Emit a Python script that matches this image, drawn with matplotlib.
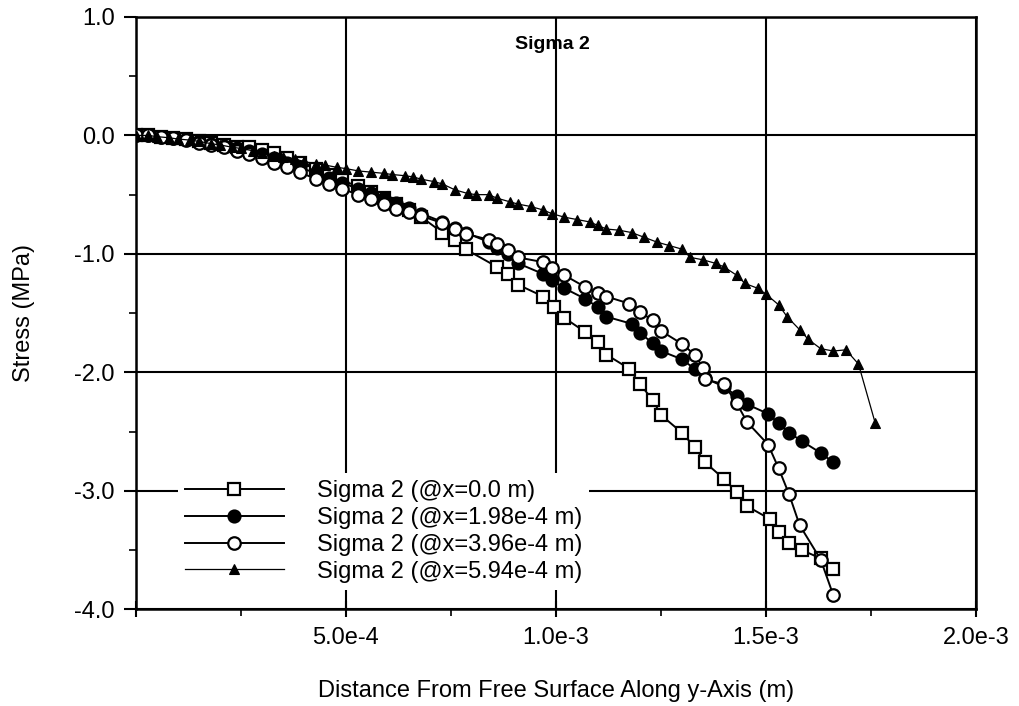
import numpy as np
import matplotlib
matplotlib.use("Agg")
import matplotlib.pyplot as plt
from matplotlib.ticker import MultipleLocator

plt.rcParams['font.family'] = ['Liberation Sans', 'DejaVu Sans']

# distances are read in units of 1e-3 m
x_sq = [0.00, 0.03, 0.06, 0.09, 0.12, 0.15, 0.18, 0.21, 0.24, 0.27, 0.30, 0.33, 0.36, 0.39,
        0.43, 0.46, 0.49, 0.53, 0.56, 0.59, 0.62, 0.65, 0.68, 0.73, 0.76, 0.785, 0.86, 0.885,
        0.91, 0.97, 0.995, 1.02, 1.07, 1.10, 1.12, 1.175, 1.20, 1.23, 1.25, 1.30, 1.33, 1.355,
        1.40, 1.43, 1.455, 1.51, 1.53, 1.555, 1.585, 1.63, 1.66]
y_sq = [0.00, 0.00, -0.01, -0.02, -0.03, -0.05, -0.06, -0.08, -0.10, -0.10, -0.12, -0.15, -0.19, -0.23,
        -0.28, -0.33, -0.38, -0.43, -0.48, -0.53, -0.58, -0.63, -0.69, -0.82, -0.88, -0.96, -1.11, -1.17,
        -1.26, -1.36, -1.45, -1.54, -1.66, -1.74, -1.85, -1.97, -2.10, -2.23, -2.36, -2.51, -2.63, -2.76,
        -2.90, -3.01, -3.13, -3.24, -3.35, -3.44, -3.50, -3.57, -3.66]

x_fc = [0.00, 0.03, 0.06, 0.09, 0.12, 0.15, 0.18, 0.21, 0.24, 0.27, 0.30, 0.33, 0.36, 0.39,
        0.43, 0.46, 0.49, 0.53, 0.56, 0.59, 0.62, 0.65, 0.68, 0.73, 0.76, 0.785, 0.84, 0.86,
        0.885, 0.91, 0.97, 0.99, 1.02, 1.07, 1.10, 1.12, 1.18, 1.20, 1.23, 1.25, 1.30, 1.33,
        1.355, 1.40, 1.43, 1.455, 1.505, 1.53, 1.555, 1.585, 1.63, 1.66]
y_fc = [0.00, 0.00, -0.01, -0.02, -0.03, -0.05, -0.07, -0.09, -0.11, -0.13, -0.16, -0.19, -0.23, -0.27,
        -0.32, -0.36, -0.40, -0.45, -0.49, -0.53, -0.57, -0.61, -0.66, -0.73, -0.78, -0.82, -0.90, -0.95,
        -1.00, -1.08, -1.17, -1.22, -1.29, -1.38, -1.45, -1.53, -1.59, -1.67, -1.75, -1.82, -1.89, -1.97,
        -2.05, -2.12, -2.20, -2.27, -2.35, -2.43, -2.51, -2.58, -2.68, -2.76]

x_oc = [0.00, 0.03, 0.06, 0.09, 0.12, 0.15, 0.18, 0.21, 0.24, 0.27, 0.30, 0.33, 0.36, 0.39,
        0.43, 0.46, 0.49, 0.53, 0.56, 0.59, 0.62, 0.65, 0.68, 0.73, 0.76, 0.785, 0.84, 0.86,
        0.885, 0.91, 0.97, 0.99, 1.02, 1.07, 1.10, 1.12, 1.175, 1.20, 1.23, 1.25, 1.30, 1.33,
        1.35, 1.355, 1.40, 1.43, 1.455, 1.505, 1.53, 1.555, 1.58, 1.63, 1.66]
y_oc = [0.00, 0.00, -0.01, -0.02, -0.04, -0.06, -0.08, -0.10, -0.13, -0.16, -0.19, -0.23, -0.27, -0.31,
        -0.37, -0.41, -0.45, -0.50, -0.54, -0.58, -0.62, -0.65, -0.68, -0.74, -0.79, -0.83, -0.88, -0.92,
        -0.97, -1.03, -1.07, -1.12, -1.18, -1.28, -1.33, -1.36, -1.42, -1.49, -1.56, -1.65, -1.76, -1.85,
        -1.96, -2.06, -2.10, -2.26, -2.42, -2.61, -2.81, -3.03, -3.29, -3.58, -3.88]

x_tr = [0.00, 0.03, 0.05, 0.08, 0.10, 0.13, 0.15, 0.18, 0.20, 0.23, 0.25, 0.28, 0.30, 0.33,
        0.35, 0.38, 0.40, 0.43, 0.45, 0.48, 0.50, 0.53, 0.56, 0.59, 0.61, 0.64, 0.66, 0.68,
        0.71, 0.73, 0.76, 0.79, 0.81, 0.84, 0.86, 0.89, 0.91, 0.94, 0.97, 0.99, 1.02, 1.05,
        1.08, 1.10, 1.12, 1.15, 1.18, 1.21, 1.24, 1.27, 1.30, 1.32, 1.35, 1.38, 1.40, 1.43,
        1.45, 1.48, 1.50, 1.53, 1.55, 1.58, 1.60, 1.63, 1.66, 1.69, 1.72, 1.76]
y_tr = [0.00, 0.00, -0.01, -0.02, -0.03, -0.04, -0.05, -0.07, -0.08, -0.10, -0.11, -0.13, -0.15, -0.17,
        -0.18, -0.20, -0.22, -0.24, -0.25, -0.27, -0.28, -0.30, -0.31, -0.32, -0.33, -0.34, -0.35, -0.37,
        -0.39, -0.41, -0.46, -0.49, -0.50, -0.50, -0.53, -0.56, -0.58, -0.60, -0.63, -0.66, -0.69, -0.71,
        -0.73, -0.76, -0.79, -0.80, -0.82, -0.86, -0.90, -0.93, -0.96, -1.03, -1.05, -1.08, -1.11, -1.18,
        -1.25, -1.29, -1.34, -1.43, -1.53, -1.64, -1.72, -1.80, -1.82, -1.81, -1.93, -2.43]

labels = ['Sigma 2 (@x=0.0 m)', 'Sigma 2 (@x=1.98e-4 m)',
          'Sigma 2 (@x=3.96e-4 m)', 'Sigma 2 (@x=5.94e-4 m)']
xticks = [0.0, 5e-4, 1e-3, 1.5e-3, 2e-3]
xticklabels = ['', '5.0e-4', '1.0e-3', '1.5e-3', '2.0e-3']
yticks = [1.0, 0.0, -1.0, -2.0, -3.0, -4.0]
yticklabels = ['1.0', '0.0', '-1.0', '-2.0', '-3.0', '-4.0']

fs = 17
fig = plt.figure(figsize=(10.2, 7.06), dpi=100)
ax = fig.add_axes([0.133, 0.137, 0.824, 0.839])

ax.plot(np.array(x_sq) * 1e-3, y_sq, '-', color='k', lw=1.4, marker='s', ms=8.5,
        mfc='white', mec='k', mew=1.6, label=labels[0], zorder=3)
ax.plot(np.array(x_fc) * 1e-3, y_fc, '-', color='k', lw=1.4, marker='o', ms=9,
        mfc='k', mec='k', mew=1.2, label=labels[1], zorder=4)
ax.plot(np.array(x_oc) * 1e-3, y_oc, '-', color='k', lw=1.4, marker='o', ms=9,
        mfc='white', mec='k', mew=1.6, label=labels[2], zorder=5)
ax.plot(np.array(x_tr) * 1e-3, y_tr, '-', color='k', lw=0.9, marker='^', ms=7.5,
        mfc='k', mec='k', mew=0.8, label=labels[3], zorder=6)

ax.set_xlim(0, 2e-3)
ax.set_ylim(-4, 1)
ax.set_xticks(xticks)
ax.set_xticklabels(xticklabels)
ax.set_yticks(yticks)
ax.set_yticklabels(yticklabels)
ax.xaxis.set_minor_locator(MultipleLocator(2.5e-4))
ax.yaxis.set_minor_locator(MultipleLocator(0.5))
ax.tick_params(which='major', direction='inout', length=12, width=1.5, labelsize=fs, pad=7)
ax.tick_params(which='minor', direction='out', length=5, width=1.2)
ax.tick_params(axis='y', which='major', direction='out', length=9, pad=6)

ax.grid(True, which='major', color='k', lw=1.5)
ax.set_axisbelow(True)
for s in ax.spines.values():
    s.set_linewidth(1.8)

ax.text(0.496, 0.953, 'Sigma 2', transform=ax.transAxes, ha='center', va='center',
        fontsize=14, fontweight='bold')

ax.set_xlabel('Distance From Free Surface Along y-Axis (m)', fontsize=fs, labelpad=22)
ax.set_ylabel('Stress (MPa)', fontsize=fs, labelpad=28)

leg = ax.legend(loc='lower left', bbox_to_anchor=(0.05, 0.033), fontsize=fs,
                frameon=True, fancybox=False, edgecolor='none', facecolor='white',
                framealpha=1.0, handlelength=4.2, handletextpad=1.4, labelspacing=0.2,
                borderaxespad=0, borderpad=0.3)

fig.savefig('out.png', dpi=100)
